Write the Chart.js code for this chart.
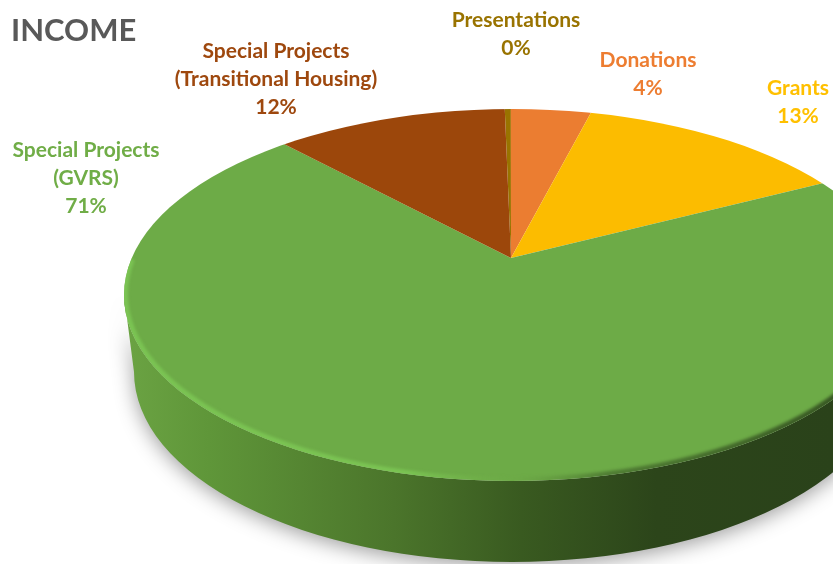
<!DOCTYPE html>
<html>
<head>
<meta charset="utf-8">
<title>Income</title>
<script src="https://cdn.jsdelivr.net/npm/chart.js@4"></script>
<style>
    html, body { margin: 0; padding: 0; background: #fff; overflow: hidden; }
    canvas { display: block; }
</style>
</head>
<body>
<canvas id="income" width="833" height="564"></canvas>
<script>
const categories = ['Presentations', 'Donations', 'Grants', 'Special Projects (GVRS)', 'Special Projects (Transitional Housing)']
const shares = [0.3, 3.95, 13.4, 70.85, 11.5]
const sliceColors = ['#997300', '#EB7D31', '#FCBC00', '#6DAB47', '#9C470B']
const textColors = ['#997300', '#ED7D31', '#FFC000', '#70AD47', '#9E480E']

// label text split in lines, and where each block sits on the page
const labelLines = [['Presentations'], ['Donations'], ['Grants'], ['Special Projects', '(GVRS)'], ['Special Projects', '(Transitional Housing)']]
const labelSpots = [[516, 20], [648, 60], [798, 88], [86, 150], [276, 51]]

// 3d look of the pie: top face, bottom rim, tip of the slices
const topFace = { x: 512, y: 295, rx: 388, ry: 186 }
const bottomFace = { x: 512, y: 372, rx: 378, ry: 190 }
const tip = { x: 511, y: 258 }
const flatten = 0.46
const stretch = 1.95

function ellipsePath(ctx, e) {
    ctx.beginPath()
    ctx.ellipse(e.x, e.y, e.rx, e.ry, 0, 0, Math.PI * 2)
}

const pieShape = {
    id: 'pieShape',
    beforeDatasetsDraw(chart) {
        const ctx = chart.ctx
        const first = chart.getDatasetMeta(0).data[0]

        // side wall
        const wall = ctx.createLinearGradient(124, 0, 833, 0)
        wall.addColorStop(0, '#6BA343')
        wall.addColorStop(0.12, '#5F9639')
        wall.addColorStop(0.38, '#4B752B')
        wall.addColorStop(0.56, '#395A20')
        wall.addColorStop(0.75, '#2C451A')
        wall.addColorStop(1, '#2A421A')
        ctx.save()
        ctx.shadowColor = 'rgba(0,0,0,0.38)'
        ctx.shadowBlur = 20
        ctx.shadowOffsetX = 0
        ctx.shadowOffsetY = 4
        ctx.fillStyle = wall
        ctx.beginPath()
        ctx.ellipse(topFace.x, topFace.y, topFace.rx, topFace.ry, 0, Math.PI, Math.PI * 2, true)
        ctx.lineTo(bottomFace.x + bottomFace.rx, bottomFace.y)
        ctx.ellipse(bottomFace.x, bottomFace.y, bottomFace.rx, bottomFace.ry, 0, 0, Math.PI)
        ctx.closePath()
        ctx.fill()
        ctx.restore()

        // slices: same arcs, squashed around the tip and cut by the top face
        ctx.save()
        ellipsePath(ctx, topFace)
        ctx.clip()
        ctx.translate(tip.x, tip.y)
        ctx.scale(stretch, stretch * flatten)
        ctx.translate(-first.x, -first.y)
    },
    afterDatasetsDraw(chart) {
        const ctx = chart.ctx
        ctx.restore()

        // bevel along the front of the rim
        ctx.save()
        ellipsePath(ctx, topFace)
        ctx.clip()
        const rim = ctx.createLinearGradient(124, 0, 833, 0)
        rim.addColorStop(0, 'rgba(125,200,85,0.85)')
        rim.addColorStop(0.4, 'rgba(125,200,85,0.85)')
        rim.addColorStop(0.55, 'rgba(110,170,70,0.2)')
        rim.addColorStop(0.68, 'rgba(45,70,28,0.45)')
        rim.addColorStop(1, 'rgba(42,66,26,0.8)')
        ctx.strokeStyle = rim
        ctx.lineWidth = 6
        ctx.filter = 'blur(1.5px)'
        ctx.beginPath()
        ctx.ellipse(topFace.x, topFace.y - 1, topFace.rx - 1, topFace.ry, 0, Math.PI * 1.06, -Math.PI * 0.08, true)
        ctx.stroke()
        ctx.restore()
    },
    afterDraw(chart) {
        const ctx = chart.ctx
        ctx.save()
        ctx.textBaseline = 'middle'

        ctx.textAlign = 'left'
        ctx.fillStyle = '#595959'
        ctx.font = 'bold 31px Lato'
        ctx.fillText('INCOME', 11, 31)

        ctx.textAlign = 'center'
        ctx.font = 'bold 21px Lato'
        categories.forEach((name, i) => {
            const lines = labelLines[i].concat(Math.round(shares[i]) + '%')
            ctx.fillStyle = textColors[i]
            lines.forEach((line, n) => {
                ctx.fillText(line, labelSpots[i][0], labelSpots[i][1] + n * 28)
            })
        })
        ctx.restore()
    }
}

new Chart(document.getElementById('income').getContext('2d'), {
    type: 'pie',
    data: {
        labels: categories,
        datasets: [{
            data: shares,
            backgroundColor: sliceColors,
            borderWidth: 0
        }]
    },
    options: {
        responsive: false,
        animation: false,
        rotation: -1.1,
        layout: { padding: 0 },
        plugins: {
            legend: { display: false },
            tooltip: { enabled: false }
        }
    },
    plugins: [pieShape]
})
</script>
</body>
</html>
